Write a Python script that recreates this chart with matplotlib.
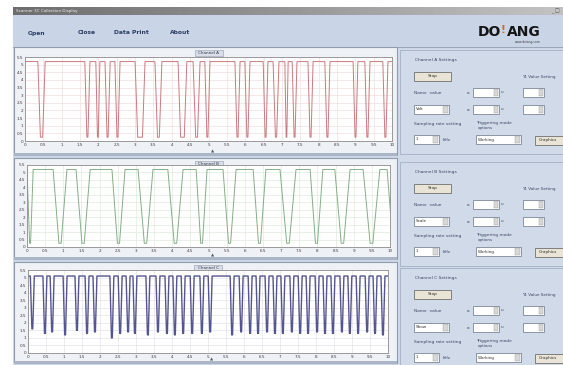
import matplotlib
matplotlib.use("Agg")
import matplotlib.pyplot as plt
import numpy as np
from matplotlib.patches import Rectangle

W, H = 563, 365

# ---- data (time 0..10, level 0..5.5) ----
x_ticks = [0, 0.5, 1, 1.5, 2, 2.5, 3, 3.5, 4, 4.5, 5, 5.5, 6, 6.5, 7, 7.5, 8, 8.5, 9, 9.5, 10]
x_labels = ["0", "0.5", "1", "1.5", "2", "2.5", "3", "3.5", "4", "4.5", "5",
            "5.5", "6", "6.5", "7", "7.5", "8", "8.5", "9", "9.5", "10"]
y_ticks = [0, 0.5, 1, 1.5, 2, 2.5, 3, 3.5, 4, 4.5, 5, 5.5]
y_labels = ["0", "0.5", "1", "1.5", "2", "2.5", "3", "3.5", "4", "4.5", "5", "5.5"]

# channel A: high level with narrow drops (start / end of each drop)
a_high, a_low = 5.2, 0.25
a_down = [0.35, 1.63, 1.93, 2.18, 2.45, 3.00, 3.54, 4.17, 4.58, 4.90, 5.72,
          5.99, 6.49, 6.76, 7.08, 7.28, 7.71, 8.17, 8.94, 9.26, 9.75]
a_up = [0.55, 1.77, 2.04, 2.32, 2.59, 3.27, 3.73, 4.41, 4.77, 5.04, 5.86,
        6.13, 6.62, 6.92, 7.17, 7.41, 7.85, 8.31, 9.07, 9.40, 9.89]

# channel B: wider V-shaped drops
b_high, b_low = 5.2, 0.25
b_down = [0.0, 0.72, 1.35, 2.34, 3.06, 3.88, 4.66, 5.40, 6.23, 6.97, 7.80,
          8.48, 9.26, 9.92]
b_up = [0.17, 1.10, 1.74, 2.70, 3.47, 4.30, 4.96, 5.76, 6.58, 7.41, 8.15,
        8.90, 9.72, 10.3]

# channel C: fast pulses (centre and bottom of each pulse)
c_high = 5.1
c_center = [0.12, 0.47, 0.67, 1.03, 1.36, 1.64, 1.86, 2.33, 2.56, 2.78, 2.97,
            3.33, 3.61, 3.86, 4.08, 4.31, 4.56, 4.83, 5.06, 5.67, 5.92, 6.17,
            6.39, 6.64, 6.86, 7.08, 7.33, 7.56, 7.78, 8.03, 8.25, 8.47, 8.72,
            8.94, 9.17, 9.42, 9.64, 9.86]
c_low = [1.6, 1.3, 1.4, 1.2, 1.5, 1.3, 1.4, 1.0, 1.3, 1.4, 1.3, 1.2, 1.4, 1.3,
         1.2, 1.3, 1.3, 1.3, 1.4, 1.2, 1.4, 1.3, 1.3, 1.4, 1.3, 1.3, 1.4, 1.3,
         1.3, 1.4, 1.3, 1.3, 1.4, 1.3, 1.3, 1.4, 1.3, 1.2]

channels = ["Channel A", "Channel B", "Channel C"]
modes = ["Volt", "Scale", "Show"]


def drop_trace(starts, ends, hi, lo, frac, cap):
    t, v = [0.0], [hi]
    for s, e in zip(starts, ends):
        k = min(cap, frac * (e - s))
        t += [s, s + k, e - k, e]
        v += [hi, lo, lo, hi]
    t.append(max(10.5, t[-1]))
    v.append(hi)
    return t, v


def pulse_trace(centers, lows, hi, half=0.055):
    t, v = [0.0], [hi]
    for c, lo in zip(centers, lows):
        t += [c - half, c - 0.012, c + 0.012, c + half]
        v += [hi, lo, lo, hi]
    t.append(10.5)
    v.append(hi)
    return t, v


def px_axes(fig, x0, y0, x1, y1):
    return fig.add_axes([x0 / W, 1 - y1 / H, (x1 - x0) / W, (y1 - y0) / H])


fig = plt.figure(figsize=(W / 100, H / 100), dpi=100)
fig.patch.set_facecolor("white")

bg = fig.add_axes([0, 0, 1, 1])
bg.set_xlim(0, W)
bg.set_ylim(H, 0)
bg.axis("off")

# window background, title bar and menu
bg.add_patch(Rectangle((13, 7), W - 13, H - 7, color="#cfd9e8", lw=0))
grad = np.linspace(0, 1, 200).reshape(1, -1)
bg.imshow(grad, extent=(13, W, 15, 7), cmap="Greys_r", vmin=-1.2, vmax=2.2,
          aspect="auto", zorder=1)
bg.text(16, 11.2, "Scanner 3C Collection Display", fontsize=3, color="#f0f0f0",
        va="center", zorder=2)
bg.text(551, 11, "_ \u25a1", fontsize=3.5, color="#505050", va="center", zorder=2)
bg.add_patch(Rectangle((13, 15), W - 13, 31, color="#c9d5e6", lw=0, zorder=1))
for label, x in [("Open", 28), ("Close", 78), ("Data Print", 114), ("About", 170)]:
    bg.text(x, 33, label, fontsize=4.3, fontweight="bold", color="#2b3d63",
            va="center", zorder=2)
bg.text(478, 32, "DO", fontsize=10, fontweight="heavy", color="#151515",
        va="center", zorder=2)
bg.text(500.5, 30, "!", fontsize=7.5, fontweight="heavy", color="#e0601a",
        va="center", zorder=3)
bg.text(507, 32, "ANG", fontsize=10, fontweight="heavy", color="#151515",
        va="center", zorder=2)
bg.text(515, 42, "www.doiang.com", fontsize=2.2, color="#404040", va="center",
        zorder=2)
bg.plot([13, W], [46.5, 46.5], color="#9aa6b8", lw=0.8, zorder=2)

# chart frames
frames = [(47, 155), (158, 259), (262, 363)]
plots = [(25, 57, 392, 141), (27, 165, 390, 247), (28, 270, 388, 353)]
for (fy0, fy1), (px0, py0, px1, py1) in zip(frames, plots):
    bg.add_patch(Rectangle((14, fy0), 383, fy1 - fy0, facecolor="#eef1f6",
                           edgecolor="#8f9bb0", lw=0.8, zorder=2))
    bg.add_patch(Rectangle((14, fy1 - 2), 383, 3, color="#aab5c7", lw=0, zorder=2))
    bg.text((px0 + px1) / 2 + 4, fy1 - 3.5, "\u25b2", fontsize=3, color="#505870",
            ha="center", va="center", zorder=3)

# settings panels on the right
tops = [60, 172, 278]
for name, mode, ty in zip(channels, modes, tops):
    bg.add_patch(Rectangle((400, ty - 10), 163, 104, facecolor="#d0dae9",
                           edgecolor="#a3b0c3", lw=0.6, zorder=2))
    bg.text(415, ty, name + " Settings", fontsize=3.2, color="#3c4866",
            va="center", zorder=3)
    bg.add_patch(Rectangle((414, ty + 12), 37, 9, facecolor="#e9e4d6",
                           edgecolor="#6f6f6f", lw=0.6, zorder=3))
    bg.text(432.5, ty + 16.5, "Stop", fontsize=3.2, color="#303030",
            ha="center", va="center", zorder=4)
    bg.text(522, ty + 17, "Y1 Value Setting", fontsize=3, color="#3c4866",
            va="center", zorder=3)
    bg.text(414, ty + 33, "Name  value", fontsize=3.2, color="#3c4866",
            va="center", zorder=3)
    for ry in [ty + 28, ty + 45]:
        bg.text(467, ry + 5, "a", fontsize=3.2, color="#3c4866", va="center",
                zorder=3)
        bg.text(501, ry + 4, "u", fontsize=3, color="#3c4866", va="center",
                zorder=3)
        for bx, bw in [(473, 26), (523, 21)]:
            bg.add_patch(Rectangle((bx, ry), bw, 9, facecolor="white",
                                   edgecolor="#7d8797", lw=0.6, zorder=3))
            bg.add_patch(Rectangle((bx + bw - 5, ry + 1), 4, 7, facecolor="#d8d8d8",
                                   edgecolor="#9a9a9a", lw=0.3, zorder=4))
    bg.add_patch(Rectangle((414, ty + 45), 35, 9, facecolor="white",
                           edgecolor="#7d8797", lw=0.6, zorder=3))
    bg.add_patch(Rectangle((443, ty + 46), 5, 7, facecolor="#d8d8d8",
                           edgecolor="#9a9a9a", lw=0.3, zorder=4))
    bg.text(416, ty + 49.5, mode, fontsize=3, color="#303030", va="center",
            zorder=4)
    bg.text(414, ty + 64, "Sampling rate setting", fontsize=3.2, color="#3c4866",
            va="center", zorder=3)
    bg.text(476, ty + 63, "Triggering mode", fontsize=3.2, color="#3c4866",
            va="center", zorder=3)
    bg.text(478, ty + 68, "options", fontsize=3, color="#3c4866", va="center",
            zorder=3)
    bg.add_patch(Rectangle((414, ty + 75), 25, 9, facecolor="white",
                           edgecolor="#7d8797", lw=0.6, zorder=3))
    bg.add_patch(Rectangle((433, ty + 76), 5, 7, facecolor="#d8d8d8",
                           edgecolor="#9a9a9a", lw=0.3, zorder=4))
    bg.text(416, ty + 79.5, "1", fontsize=3, color="#303030", va="center", zorder=4)
    bg.text(443, ty + 80, "kHz", fontsize=3.2, color="#3c4866", va="center",
            zorder=3)
    bg.add_patch(Rectangle((476, ty + 75), 45, 9, facecolor="white",
                           edgecolor="#7d8797", lw=0.6, zorder=3))
    bg.add_patch(Rectangle((515, ty + 76), 5, 7, facecolor="#d8d8d8",
                           edgecolor="#9a9a9a", lw=0.3, zorder=4))
    bg.text(478, ty + 79.5, "Working", fontsize=3, color="#303030", va="center",
            zorder=4)
    bg.add_patch(Rectangle((535, ty + 76), 30, 9, facecolor="#e9e4d6",
                           edgecolor="#6f6f6f", lw=0.6, zorder=3))
    bg.text(539, ty + 80.5, "Graphics", fontsize=3, color="#303030", va="center",
            zorder=4)

# waveforms
traces = [drop_trace(a_down, a_up, a_high, a_low, 0.4, 0.07),
          drop_trace(b_down, b_up, b_high, b_low, 0.42, 1.0),
          pulse_trace(c_center, c_low, c_high)]
line_colors = ["#c97a7f", "#86ad88", "#55558f"]
grid_colors = ["#f3dede", "#dfeadf", "#e3e3ec"]
widths = [0.7, 0.7, 1.0]

for name, (t, v), col, gcol, lw, (px0, py0, px1, py1), (fy0, fy1) in zip(
        channels, traces, line_colors, grid_colors, widths, plots, frames):
    ax = px_axes(fig, px0, py0, px1, py1)
    ax.set_zorder(5)
    ax.plot(t, v, color=col, lw=lw)
    ax.set_xlim(0, 10)
    ax.set_ylim(0, 5.5)
    ax.set_xticks(x_ticks)
    ax.set_xticklabels(x_labels)
    ax.set_yticks(y_ticks)
    ax.set_yticklabels(y_labels)
    ax.tick_params(labelsize=3, length=0, pad=1.5, colors="#3a3a3a")
    ax.grid(True, color=gcol, lw=0.5)
    for s in ax.spines.values():
        s.set_color("#8c8c8c")
        s.set_linewidth(0.6)
    bg.add_patch(Rectangle(((px0 + px1) / 2 - 14, fy0 + 3), 28, 6,
                           facecolor="#d9dee8", edgecolor="#8f9bb0", lw=0.4,
                           zorder=6))
    bg.text((px0 + px1) / 2, fy0 + 6, name, fontsize=3, color="#303848",
            ha="center", va="center", zorder=7)

fig.savefig("out.png", dpi=100)
